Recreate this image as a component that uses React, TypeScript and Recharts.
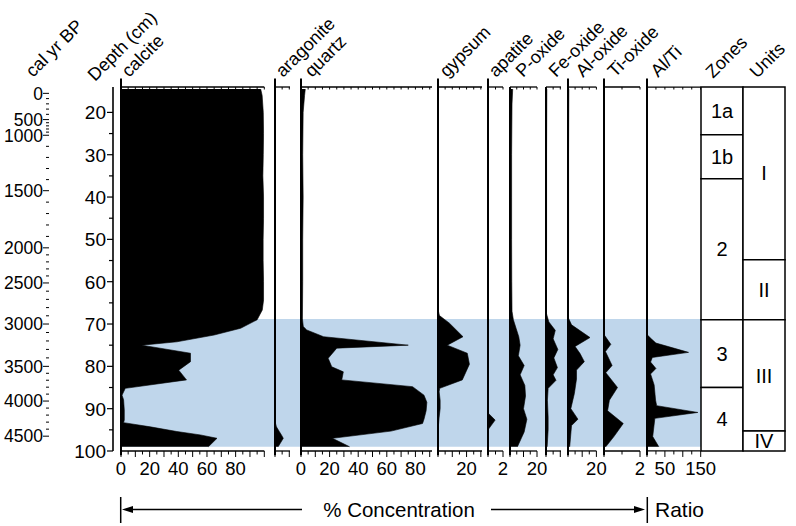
import React from "react";
import { Area, ComposedChart, ReferenceArea, ReferenceLine, XAxis, YAxis } from "recharts";

const FONT = "'Liberation Sans', Arial, Helvetica, sans-serif";
const W = 796;
const H = 526;
const PLOT_TOP = 87; // depth 14 sits here
const PLOT_BOTTOM = 75; // depth 100 sits at 451
const DEPTH: [number, number] = [14, 100];

// age-depth model: labelled ages (cal yr BP) and the depth (cm) they fall on
const ageLabels = [0, 500, 1000, 1500, 2000, 2500, 3000, 3500, 4000, 4500];
const ageDepths = [15.5, 21.7, 25.4, 38.5, 52.0, 60.3, 70.0, 80.0, 88.2, 96.5];

const depthLabels = [20, 30, 40, 50, 60, 70, 80, 90, 100];
const depthMinor = [25, 35, 45, 55, 65, 75, 85, 95];

// shaded interval
const shadeTop = 68.8;
const shadeBase = 99;

const zoneNames = ["1a", "1b", "2", "3", "4"];
const zoneTops = [14, 25.3, 35.7, 69, 85];
const zoneBases = [25.3, 35.7, 69, 85, 100];
const unitNames = ["I", "II", "III", "IV"];
const unitTops = [14, 54.8, 69, 95.3];
const unitBases = [54.8, 69, 95.3, 100];

// [depth cm, value]
const calcite: [number, number][] = [
  [14.5, 97.5], [16, 98.5], [20, 99.3], [25, 99.5], [30, 99.3], [35, 99], [40, 99.5],
  [45, 99.5], [50, 99.2], [55, 99.2], [60, 99.5], [64.3, 99.5], [66.7, 98.6], [69, 95],
  [71, 83.5], [72.6, 65], [74.2, 39], [75, 14.5], [76.9, 48.5], [78.9, 48.5], [80.9, 40.3],
  [83.2, 45.7], [85.2, 3], [86.8, 0.7], [87.9, 1.8], [90.3, 2.3], [92.7, 2.3], [93.3, 1.8],
  [94.3, 20.5], [95.4, 39], [96.2, 55.4], [97, 67], [99, 61],
];
const aragonite: [number, number][] = [
  [14.5, 0], [93, 0], [94.3, 1], [95.4, 3], [96.2, 4.5], [97, 5.8], [99, 2.2],
];
const quartz: [number, number][] = [
  [14.5, 3], [16, 2.5], [20, 1.5], [30, 1.2], [40, 1.5], [50, 1.2], [60, 1.2], [68.8, 1],
  [70.6, 1.6], [71.4, 4], [73, 15.8], [75, 75], [75.7, 25], [78.1, 19], [80.1, 21.5],
  [81.3, 29.6], [83.2, 28.5], [84.8, 78], [86.8, 86], [88.5, 88], [90.5, 87.5], [92.5, 86],
  [93.5, 85], [95.3, 63], [97, 22], [99, 34],
];
const gypsum: [number, number][] = [
  [14.5, 0], [66.5, 0], [68, 1], [69.8, 8], [73, 17.5], [75, 6.5], [76.9, 20.5], [79.5, 22],
  [83.2, 17], [85.2, 1.2], [86, 0.8], [88, 1.5], [90, 1.5], [92, 0.8], [94, 0.3], [99, 0.3],
];
const apatite: [number, number][] = [[14.5, 0], [91, 0], [92.7, 0.95], [95, 0], [99, 0]];
const pOxide: [number, number][] = [
  [14.5, 2], [18, 1.5], [30, 1.2], [40, 1.2], [50, 1.2], [60, 1.3], [67, 1.5], [69, 2.5],
  [71, 4.5], [73, 6.5], [75, 7.5], [77.5, 6.2], [79.8, 10.5], [82, 7.5], [84.5, 11], [87, 11.5],
  [90, 10], [92.5, 12.5], [95.5, 10.5], [99, 5.5],
];
const feOxide: [number, number][] = [
  [14.5, 0.6], [30, 0.4], [50, 0.4], [67.5, 0.3], [69.5, 2], [71.5, 6.5], [73.5, 5], [76, 8.3],
  [78, 5.5], [80.3, 8], [82, 5], [83.3, 7], [85.2, 1.5], [88, 1], [92, 1.5], [95, 1.5], [99, 0.8],
];
const alOxide: [number, number][] = [
  [14.5, 0.6], [30, 0.4], [50, 0.4], [68.6, 0.3], [70.2, 2.5], [73.2, 15.5], [75.3, 5], [77, 8.5],
  [78.9, 11.5], [80.9, 6], [83, 6], [86.4, 4.5], [90, 2], [92.5, 7], [94, 2.5], [99, 1.2],
];
const tiOxide: [number, number][] = [
  [14.5, 0], [72.5, 0], [74.8, 0.38], [76.5, 0.08], [79.8, 0.45], [81.5, 0.1], [85, 0.75],
  [88, 0.3], [90.5, 0.2], [93.5, 1.07], [96.6, 0.55], [99, 0.1],
];
const alTi: [number, number][] = [
  [14.5, 0], [72.5, 0], [73.5, 12], [74.5, 25], [76.7, 116], [77.9, 15], [79, 10], [80.5, 25],
  [81.8, 10], [84.4, 20], [88, 24], [89.3, 27], [90.9, 142], [92.3, 22], [96.6, 16], [99, 33],
];

const steps = (step: number, max: number) => {
  const out: number[] = [];
  for (let v = 0; v <= max + 1e-9; v += step) out.push(+v.toFixed(4));
  return out;
};

// minor age ticks every 100 yr along the age-depth model
const ageMinor: number[] = [];
for (let i = 0; i < ageDepths.length - 1; i++) {
  for (let k = 1; k < 5; k++) {
    ageMinor.push(ageDepths[i] + ((ageDepths[i + 1] - ageDepths[i]) * k) / 5);
  }
}

interface PanelDef {
  name: string;
  data: [number, number][];
  left: number;
  width: number;
  max: number;
  ticks: number[];
  labels: number[];
  majorStep: number;
  titleDx: number;
  ext: boolean;
}

const panels: PanelDef[] = [
  { name: "calcite", data: calcite, left: 120.7, width: 143.3, max: 100, ticks: steps(5, 100), labels: [0, 20, 40, 60, 80], majorStep: 10, titleDx: 8, ext: true },
  { name: "aragonite", data: aragonite, left: 275, width: 15, max: 10.5, ticks: [0, 5, 10], labels: [], majorStep: 10, titleDx: 8, ext: true },
  { name: "quartz", data: quartz, left: 301, width: 131, max: 91.6, ticks: steps(5, 90), labels: [0, 20, 40, 60, 80], majorStep: 10, titleDx: 11, ext: true },
  { name: "gypsum", data: gypsum, left: 437.7, width: 44, max: 30.8, ticks: steps(5, 30), labels: [20], majorStep: 10, titleDx: 9, ext: true },
  { name: "apatite", data: apatite, left: 488.3, width: 15, max: 2, ticks: [0, 1, 2], labels: [2], majorStep: 2, titleDx: 8, ext: true },
  { name: "P-oxide", data: pOxide, left: 510.3, width: 27, max: 20, ticks: steps(5, 20), labels: [20], majorStep: 10, titleDx: 13, ext: false },
  { name: "Fe-oxide", data: feOxide, left: 546, width: 15, max: 10.5, ticks: [0, 5, 10], labels: [], majorStep: 10, titleDx: 10, ext: false },
  { name: "Al-oxide", data: alOxide, left: 568.3, width: 28.4, max: 20, ticks: steps(5, 20), labels: [20], majorStep: 10, titleDx: 15, ext: true },
  { name: "Ti-oxide", data: tiOxide, left: 604, width: 36, max: 2, ticks: [0, 1, 2], labels: [2], majorStep: 2, titleDx: 11, ext: true },
  { name: "Al/Ti", data: alTi, left: 647.3, width: 53.7, max: 150, ticks: steps(25, 150), labels: [50, 150], majorStep: 50, titleDx: 11, ext: true },
];

const TITLE_FS = 18;

const Title = ({ viewBox, text, dx, dy }: any) => {
  const x = (viewBox?.x ?? 0) + dx;
  const y = (viewBox?.y ?? PLOT_TOP) + dy;
  return (
    <text x={x} y={y} transform={`rotate(-45 ${x} ${y})`} fontSize={TITLE_FS} fontFamily={FONT} fill="#000">
      {text}
    </text>
  );
};

const TopTick = ({ x, y }: any) => (
  <line x1={x} x2={x} y1={y} y2={y + 2.5} stroke="#000" strokeWidth={1} />
);

const BottomTick = ({ x, y, payload, labels, majorStep }: any) => {
  const v = payload.value;
  const major = Math.abs(v / majorStep - Math.round(v / majorStep)) < 1e-6;
  return (
    <g>
      <line x1={x} x2={x} y1={y} y2={y + (major ? 6 : 3.5)} stroke="#000" strokeWidth={1} />
      {labels.includes(v) && (
        <text x={x} y={y + 24} textAnchor="middle" fontSize={18.5} fontFamily={FONT} fill="#000">
          {v}
        </text>
      )}
    </g>
  );
};

const AgeTick = ({ x, y, payload }: any) => {
  const i = ageDepths.indexOf(payload.value);
  const major = i >= 0;
  return (
    <g>
      <line x1={x - (major ? 6 : 3)} x2={x} y1={y} y2={y} stroke="#000" strokeWidth={1} />
      {major && (
        <text x={x - 6} y={y} dy="0.36em" textAnchor="end" fontSize={17.5} fontFamily={FONT} fill="#000">
          {ageLabels[i]}
        </text>
      )}
    </g>
  );
};

const DepthTick = ({ x, y, payload }: any) => {
  const major = depthLabels.includes(payload.value);
  return (
    <g>
      <line x1={x - (major ? 6 : 4)} x2={x} y1={y} y2={y} stroke="#000" strokeWidth={1.2} />
      {major && (
        <text x={x - 7} y={y} dy="0.36em" textAnchor="end" fontSize={19} fontFamily={FONT} fill="#000">
          {payload.value}
        </text>
      )}
    </g>
  );
};

const margin = { top: PLOT_TOP, bottom: PLOT_BOTTOM, left: 0, right: 0 };
// panels carry a 1px top and bottom axis, so their margins are 1px smaller
const panelMargin = { top: PLOT_TOP - 1, bottom: PLOT_BOTTOM - 1, left: 0, right: 0 };

const Panel = ({ p }: { p: PanelDef }) => {
  const rows = p.data.map(([d, v]) => ({ d, v }));
  return (
    <div style={{ position: "absolute", left: p.left, top: 0 }}>
      <ComposedChart layout="vertical" width={p.width} height={H} data={rows} margin={panelMargin}>
        <XAxis
          type="number"
          domain={[0, p.max]}
          allowDataOverflow
          ticks={p.ticks}
          interval={0}
          height={1}
          tickSize={0}
          tickMargin={0}
          tickLine={false}
          axisLine={{ stroke: "#000", strokeWidth: 1.3 }}
          tick={(t: any) => <BottomTick {...t} labels={p.labels} majorStep={p.majorStep} />}
        />
        <XAxis
          xAxisId="top"
          orientation="top"
          type="number"
          domain={[0, p.max]}
          allowDataOverflow
          ticks={p.ticks}
          interval={0}
          height={1}
          tickSize={0}
          tickMargin={0}
          tickLine={false}
          axisLine={{ stroke: "#000", strokeWidth: 1.3 }}
          tick={(t: any) => <TopTick {...t} />}
          label={<Title text={p.name} dx={p.titleDx} dy={-8} />}
        />
        <YAxis type="number" dataKey="d" domain={DEPTH} allowDataOverflow hide />
        <Area
          dataKey="v"
          type="linear"
          fill="#000"
          fillOpacity={1}
          stroke="#000"
          strokeWidth={0.6}
          dot={false}
          activeDot={false}
          isAnimationActive={false}
        />
        <ReferenceLine
          segment={[{ x: 0, y: p.ext ? 12 : 14 }, { x: 0, y: 101 }]}
          stroke="#000"
          strokeWidth={2}
          ifOverflow="visible"
        />
      </ComposedChart>
    </div>
  );
};

const ageRows = ageDepths.map((d) => ({ d }));
const depthRows = depthLabels.map((d) => ({ d }));
const shadeRows = [{ d: shadeTop }, { d: shadeBase }];
const zoneRows = zoneTops.map((d) => ({ d }));

export default function App() {
  return (
    <div style={{ position: "absolute", left: 0, top: 0, width: W, height: H, background: "#fff", fontFamily: FONT }}>
      <style>{`.recharts-surface{overflow:visible}`}</style>

      {/* shaded interval behind all panels */}
      <div style={{ position: "absolute", left: 120.7, top: 0 }}>
        <ComposedChart layout="vertical" width={580.3} height={H} data={shadeRows} margin={margin}>
          <XAxis type="number" domain={[0, 1]} allowDataOverflow hide />
          <YAxis type="number" dataKey="d" domain={DEPTH} allowDataOverflow hide />
          <ReferenceArea
            x1={0}
            x2={1}
            y1={shadeTop}
            y2={shadeBase}
            fill="#bfd6eb"
            fillOpacity={1}
            stroke="none"
            ifOverflow="visible"
          />
        </ComposedChart>
      </div>

      {/* cal yr BP axis */}
      <div style={{ position: "absolute", left: 0, top: 0 }}>
        <ComposedChart layout="vertical" width={50} height={H} data={ageRows} margin={margin}>
          <XAxis type="number" domain={[0, 1]} hide />
          <YAxis
            type="number"
            dataKey="d"
            domain={DEPTH}
            allowDataOverflow
            width={49}
            ticks={[...ageDepths, ...ageMinor]}
            interval={0}
            tickSize={0}
            tickMargin={0}
            tickLine={false}
            axisLine={false}
            tick={(t: any) => <AgeTick {...t} />}
            label={<Title text="cal yr BP" dx={33} dy={-9} />}
          />
          <ReferenceLine
            segment={[{ x: 0, y: 14.9 }, { x: 0, y: 98 }]}
            stroke="#000"
            strokeWidth={1.6}
            ifOverflow="visible"
          />
        </ComposedChart>
      </div>

      {/* depth axis */}
      <div style={{ position: "absolute", left: 50, top: 0 }}>
        <ComposedChart layout="vertical" width={64} height={H} data={depthRows} margin={margin}>
          <XAxis type="number" domain={[0, 1]} hide />
          <YAxis
            type="number"
            dataKey="d"
            domain={DEPTH}
            allowDataOverflow
            width={63}
            ticks={[...depthLabels, ...depthMinor]}
            interval={0}
            tickSize={0}
            tickMargin={0}
            tickLine={false}
            axisLine={{ stroke: "#000", strokeWidth: 1.6 }}
            tick={(t: any) => <DepthTick {...t} />}
            label={<Title text="Depth (cm)" dx={45} dy={-5} />}
          />
        </ComposedChart>
      </div>

      {panels.map((p) => (
        <Panel key={p.name} p={p} />
      ))}

      {/* zones and units */}
      <div style={{ position: "absolute", left: 701, top: 0 }}>
        <ComposedChart layout="vertical" width={84} height={H} data={zoneRows} margin={margin}>
          <XAxis type="number" domain={[0, 2]} allowDataOverflow hide />
          <YAxis type="number" dataKey="d" domain={DEPTH} allowDataOverflow hide />
          {zoneNames.map((z, i) => (
            <ReferenceArea
              key={z}
              x1={0}
              x2={1}
              y1={zoneTops[i]}
              y2={zoneBases[i]}
              fill="#fff"
              fillOpacity={1}
              stroke="#000"
              strokeWidth={1.5}
              ifOverflow="visible"
              label={{ value: z, position: "center", fontSize: 20, fill: "#000", fontFamily: FONT }}
            />
          ))}
          {unitNames.map((u, i) => (
            <ReferenceArea
              key={u}
              x1={1}
              x2={2}
              y1={unitTops[i]}
              y2={unitBases[i]}
              fill="#fff"
              fillOpacity={1}
              stroke="#000"
              strokeWidth={1.5}
              ifOverflow="visible"
              label={{ value: u, position: "center", fontSize: 20, fill: "#000", fontFamily: FONT }}
            />
          ))}
        </ComposedChart>
      </div>

      {/* column headers for zones/units and the footer */}
      <svg width={W} height={H} style={{ position: "absolute", left: 0, top: 0, pointerEvents: "none" }}>
        <text x={713} y={79} transform="rotate(-45 713 79)" fontSize={TITLE_FS} fontFamily={FONT}>Zones</text>
        <text x={757} y={79} transform="rotate(-45 757 79)" fontSize={TITLE_FS} fontFamily={FONT}>Units</text>
        <g stroke="#000" strokeWidth={1.5}>
          <line x1={120.7} x2={120.7} y1={497} y2={523} />
          <line x1={128} x2={302} y1={509.5} y2={509.5} />
          <line x1={491} x2={638} y1={509.5} y2={509.5} />
          <line x1={647.3} x2={647.3} y1={497} y2={523} />
        </g>
        <polygon points="122,509.5 133,506 133,513" fill="#000" />
        <polygon points="645,509.5 634,506 634,513" fill="#000" />
        <text x={399} y={517} textAnchor="middle" fontSize={20.5} fontFamily={FONT}>% Concentration</text>
        <text x={655} y={517} fontSize={21} fontFamily={FONT}>Ratio</text>
      </svg>
    </div>
  );
}
